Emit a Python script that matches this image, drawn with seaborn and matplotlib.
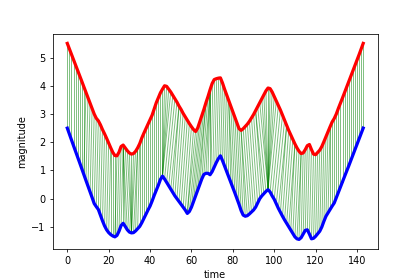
# DTW alignment between two series: red on top (shown shifted up), blue below, green warping lines
import numpy as np
import pandas as pd
import seaborn as sns
import matplotlib.pyplot as plt

red = [
    5.50, 5.31, 5.12, 4.92, 4.73, 4.54, 4.35, 4.16, 3.96, 3.77,
    3.58, 3.39, 3.19, 3.00, 2.85, 2.76, 2.62, 2.45, 2.30, 2.14,
    1.97, 1.80, 1.64, 1.53, 1.52, 1.65, 1.85, 1.90, 1.80, 1.70,
    1.62, 1.58, 1.60, 1.68, 1.80, 1.95, 2.15, 2.32, 2.48, 2.64,
    2.80, 2.96, 3.18, 3.40, 3.58, 3.75, 3.88, 4.00, 3.98, 3.88,
    3.78, 3.66, 3.54, 3.42, 3.28, 3.16, 3.02, 2.90, 2.78, 2.66,
    2.55, 2.45, 2.38, 2.50, 2.72, 2.95, 3.16, 3.40, 3.62, 3.86,
    4.08, 4.22, 4.25, 4.27, 4.28, 4.10, 3.88, 3.68, 3.48, 3.28,
    3.08, 2.88, 2.68, 2.48, 2.42, 2.48, 2.56, 2.64, 2.74, 2.86,
    2.98, 3.12, 3.26, 3.40, 3.54, 3.68, 3.82, 3.92, 3.90, 3.78,
    3.62, 3.46, 3.30, 3.14, 2.96, 2.78, 2.60, 2.42, 2.26, 2.10,
    1.94, 1.80, 1.68, 1.60, 1.62, 1.74, 1.88, 1.92, 1.74, 1.58,
    1.56, 1.64, 1.72, 1.85, 2.02, 2.20, 2.38, 2.55, 2.72, 2.84,
    3.00, 3.20, 3.38, 3.57, 3.76, 3.95, 4.14, 4.33, 4.52, 4.71,
    4.90, 5.10, 5.30, 5.50]

blue = [
    2.50, 2.29, 2.09, 1.88, 1.68, 1.47, 1.27, 1.06, 0.86, 0.65,
    0.45, 0.24, 0.04, -0.17, -0.28, -0.38, -0.58, -0.78, -0.96, -1.10,
    -1.20, -1.27, -1.32, -1.35, -1.30, -1.15, -0.95, -0.87, -0.98, -1.10,
    -1.18, -1.21, -1.20, -1.14, -1.06, -0.98, -0.85, -0.70, -0.55, -0.40,
    -0.26, -0.08, 0.12, 0.30, 0.48, 0.68, 0.80, 0.70, 0.58, 0.46,
    0.34, 0.22, 0.10, 0.00, -0.10, -0.20, -0.30, -0.40, -0.52, -0.45,
    -0.30, -0.10, 0.10, 0.30, 0.50, 0.70, 0.86, 0.90, 0.90, 0.85,
    0.96, 1.12, 1.28, 1.42, 1.52, 1.35, 1.16, 0.97, 0.78, 0.58,
    0.39, 0.20, 0.00, -0.20, -0.42, -0.58, -0.62, -0.60, -0.54, -0.47,
    -0.40, -0.30, -0.15, 0.00, 0.10, 0.18, 0.26, 0.32, 0.24, 0.10,
    -0.02, -0.18, -0.34, -0.48, -0.62, -0.75, -0.87, -0.99, -1.11, -1.23,
    -1.35, -1.42, -1.44, -1.38, -1.25, -1.12, -1.10, -1.25, -1.42, -1.40,
    -1.33, -1.24, -1.15, -1.00, -0.80, -0.62, -0.50, -0.38, -0.26, -0.15,
    0.04, 0.22, 0.41, 0.60, 0.79, 0.97, 1.16, 1.35, 1.54, 1.73,
    1.92, 2.11, 2.30, 2.50]

red_shift = 3.0  # red series is drawn 3 units above its raw values
time = list(range(len(red)))


def dtw_path(a, b):
    a = np.asarray(a)
    b = np.asarray(b)
    n, m = len(a), len(b)
    cost = np.abs(a[:, None] - b[None, :])
    D = np.full((n + 1, m + 1), np.inf)
    D[0, 0] = 0
    for i in range(1, n + 1):
        for j in range(1, m + 1):
            D[i, j] = cost[i - 1, j - 1] + min(D[i - 1, j], D[i, j - 1], D[i - 1, j - 1])
    i, j = n, m
    path = [(i - 1, j - 1)]
    while i > 1 or j > 1:
        _, i, j = min((D[i - 1, j - 1], i - 1, j - 1), (D[i - 1, j], i - 1, j), (D[i, j - 1], i, j - 1))
        path.append((i - 1, j - 1))
    return path[::-1]


path = dtw_path(np.array(red) - red_shift, blue)
rows = []
for k, (i, j) in enumerate(path):
    rows.append((k, i, red[i]))
    rows.append((k, j, blue[j]))
links = pd.DataFrame(rows, columns=['pair', 't', 'v'])

fig, ax = plt.subplots(figsize=(6, 4))
sns.lineplot(data=links, x='t', y='v', units='pair', estimator=None, sort=False,
             color='g', lw=1.0, alpha=0.5, ax=ax)
sns.lineplot(x=time, y=red, color='r', lw=3.3, ax=ax)
sns.lineplot(x=time, y=blue, color='b', lw=3.3, ax=ax)
ax.set_xlabel('time')
ax.set_ylabel('magnitude')
fig.savefig('out.png', dpi=70)
